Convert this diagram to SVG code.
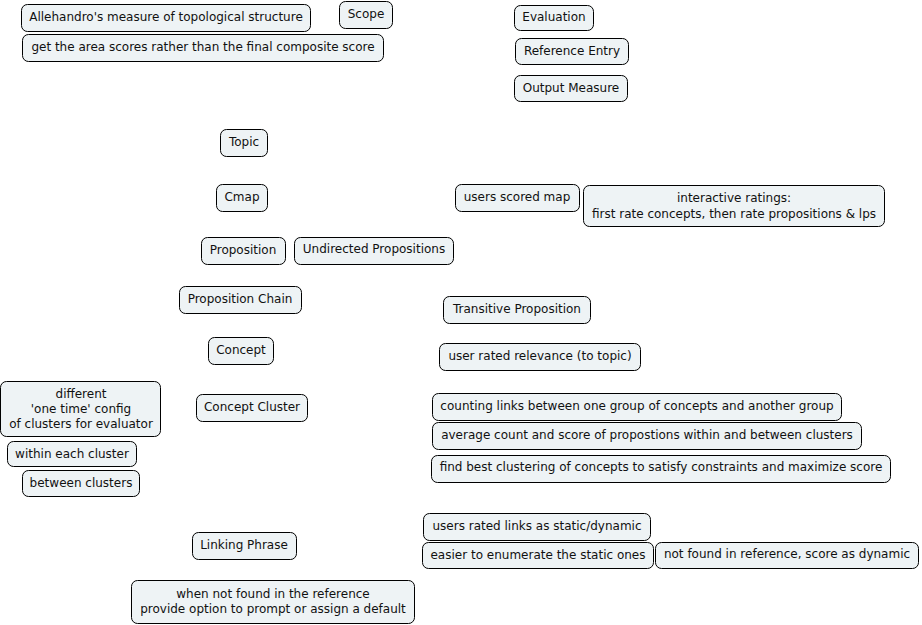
<svg xmlns="http://www.w3.org/2000/svg" width="922" height="625" viewBox="0 0 922 625">
<style>
.n rect{fill:#eef3f5;stroke:#000;stroke-width:1;}
.n text{font-family:"DejaVu Sans",Verdana,sans-serif;font-size:12px;fill:#111;text-anchor:middle;}
</style>
<rect width="922" height="625" fill="#fff"/>
<g id="connectors"></g>
<g id="n1" class="n"><rect x="21.5" y="4.5" width="289" height="27" rx="6"/><text x="166" y="21">Allehandro's measure of topological structure</text></g>
<g id="n2" class="n"><rect x="339.5" y="1.5" width="53" height="27" rx="6"/><text x="366" y="18">Scope</text></g>
<g id="n3" class="n"><rect x="22.5" y="34.5" width="361" height="27" rx="6"/><text x="203" y="51">get the area scores rather than the final composite score</text></g>
<g id="n4" class="n"><rect x="514.5" y="5.5" width="79" height="25" rx="6"/><text x="554" y="21">Evaluation</text></g>
<g id="n5" class="n"><rect x="515.5" y="38.5" width="113" height="26" rx="6"/><text x="572" y="54.5">Reference Entry</text></g>
<g id="n6" class="n"><rect x="514.5" y="75.5" width="113" height="26" rx="6"/><text x="571" y="91.5">Output Measure</text></g>
<g id="n7" class="n"><rect x="220.5" y="129.5" width="47" height="27" rx="6"/><text x="244" y="145.5">Topic</text></g>
<g id="n8" class="n"><rect x="216.5" y="184.5" width="51" height="27" rx="6"/><text x="242" y="200.5">Cmap</text></g>
<g id="n9" class="n"><rect x="455.5" y="184.5" width="124" height="27" rx="6"/><text x="517" y="200.5">users scored map</text></g>
<g id="n10" class="n"><rect x="583.5" y="185.5" width="301" height="41" rx="6"/><text x="734" y="201.5">interactive ratings:</text><text x="734" y="217.5">first rate concepts, then rate propositions &amp; lps</text></g>
<g id="n11" class="n"><rect x="201.5" y="237.5" width="84" height="27" rx="6"/><text x="243" y="254">Proposition</text></g>
<g id="n12" class="n"><rect x="294.5" y="237.5" width="159" height="27" rx="6"/><text x="374" y="253">Undirected Propositions</text></g>
<g id="n13" class="n"><rect x="179.5" y="286.5" width="122" height="27" rx="6"/><text x="240" y="303">Proposition Chain</text></g>
<g id="n14" class="n"><rect x="443.5" y="296.5" width="147" height="27" rx="6"/><text x="517" y="312.5">Transitive Proposition</text></g>
<g id="n15" class="n"><rect x="208.5" y="337.5" width="65" height="27" rx="6"/><text x="241" y="353.5">Concept</text></g>
<g id="n16" class="n"><rect x="439.5" y="343.5" width="201" height="27" rx="6"/><text x="540" y="360">user rated relevance (to topic)</text></g>
<g id="n17" class="n"><rect x="0.5" y="381.5" width="160" height="55" rx="6"/><text x="81" y="398">different</text><text x="81" y="413">'one time' config</text><text x="81" y="428">of clusters for evaluator</text></g>
<g id="n18" class="n"><rect x="196.5" y="394.5" width="111" height="27" rx="6"/><text x="252" y="411">Concept Cluster</text></g>
<g id="n19" class="n"><rect x="7.5" y="441.5" width="129" height="25" rx="6"/><text x="72" y="457.5">within each cluster</text></g>
<g id="n20" class="n"><rect x="22.5" y="470.5" width="117" height="26" rx="6"/><text x="81" y="486.5">between clusters</text></g>
<g id="n21" class="n"><rect x="432.5" y="393.5" width="409" height="27" rx="6"/><text x="637" y="410">counting links between one group of concepts and another group</text></g>
<g id="n22" class="n"><rect x="432.5" y="422.5" width="429" height="27" rx="6"/><text x="647" y="439">average count and score of propostions within and between clusters</text></g>
<g id="n23" class="n"><rect x="431.5" y="455.5" width="459" height="27" rx="6"/><text x="661" y="471">find best clustering of concepts to satisfy constraints and maximize score</text></g>
<g id="n24" class="n"><rect x="423.5" y="513.5" width="227" height="27" rx="6"/><text x="537" y="530">users rated links as static/dynamic</text></g>
<g id="n25" class="n"><rect x="422.5" y="542.5" width="231" height="26" rx="6"/><text x="538" y="559">easier to enumerate the static ones</text></g>
<g id="n26" class="n"><rect x="655.5" y="542.5" width="263" height="26" rx="6"/><text x="787" y="558">not found in reference, score as dynamic</text></g>
<g id="n27" class="n"><rect x="192.5" y="532.5" width="104" height="27" rx="6"/><text x="244" y="549">Linking Phrase</text></g>
<g id="n28" class="n"><rect x="131.5" y="580.5" width="283" height="43" rx="6"/><text x="273" y="597.5">when not found in the reference</text><text x="273" y="612.5">provide option to prompt or assign a default</text></g>
</svg>
